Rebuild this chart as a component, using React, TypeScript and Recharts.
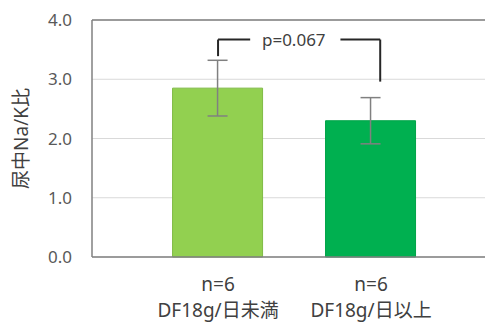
import React from "react";
import {
  BarChart,
  Bar,
  Cell,
  XAxis,
  YAxis,
  CartesianGrid,
  ErrorBar,
  ReferenceLine,
  ReferenceDot,
} from "recharts";

// values
const groups = [1, 2];
const nLabels = ["n=6", "n=6"];
const groupLabels = ["DF18g/日未満", "DF18g/日以上"];
const means = [2.85, 2.3];
const errors = [0.47, 0.39];
const barColors = ["#92D050", "#00B050"];
const barBorders = ["#7FBA45", "#00A448"];
const yTicks = [0, 1, 2, 3, 4];

// significance bracket (data units)
const bracketY = 3.67;
const bracketLeftX = 1;
const bracketLeftBottom = 3.39;
const bracketRightX = 2.06;
const bracketRightBottom = 2.96;
const gapStart = 1.21;
const gapEnd = 1.8;
const pLabelX = 1.495;
const pText = "p=0.067";

const FONT = "'Noto Sans', 'Noto Sans CJK JP', sans-serif";
const AXIS_COLOR = "#808080";
const BRACKET_COLOR = "#262626";

const data = groups.map((g, i) => ({
  x: g,
  mean: means[i],
  err: errors[i],
}));

function GroupTick({ x, y, payload }: any) {
  const i = groups.indexOf(payload.value);
  if (i < 0) return null;
  return (
    <g>
      <text x={x} y={y + 26} textAnchor="middle" fontSize={19} fill="#404040" fontFamily={FONT}>
        {nLabels[i]}
      </text>
      <text x={x} y={y + 52} textAnchor="middle" fontSize={19} fill="#404040" fontFamily={FONT}>
        {groupLabels[i]}
      </text>
    </g>
  );
}

export default function App() {
  return (
    <div style={{ position: "absolute", left: 0, top: 0, background: "#fff" }}>
      <BarChart
        width={485}
        height={322}
        data={data}
        margin={{ top: 20, right: 0, bottom: 0, left: 0 }}
      >
        <CartesianGrid vertical={false} stroke="#D9D9D9" strokeWidth={1} />
        <XAxis
          dataKey="x"
          type="number"
          domain={[0.176, 2.745]}
          ticks={groups}
          allowDataOverflow
          height={65}
          axisLine={{ stroke: AXIS_COLOR, strokeWidth: 1.5 }}
          tickLine={false}
          tick={<GroupTick />}
          interval={0}
        />
        <YAxis
          domain={[0, 4]}
          ticks={yTicks}
          width={92}
          axisLine={{ stroke: AXIS_COLOR, strokeWidth: 1.5 }}
          tickLine={false}
          tickMargin={14}
          tickFormatter={(v: number) => v.toFixed(1)}
          tick={{ fontSize: 17, fill: "#595959", fontFamily: FONT }}
          label={({ viewBox }: any) => (
            <text
              x={21}
              y={viewBox.y + viewBox.height / 2}
              transform={`rotate(-90, 21, ${viewBox.y + viewBox.height / 2})`}
              textAnchor="middle"
              dominantBaseline="central"
              fontSize={19}
              fill="#404040"
              fontFamily={FONT}
            >
              尿中Na/K比
            </text>
          )}
        />
        <ReferenceLine y={4} stroke={AXIS_COLOR} strokeWidth={1.5} />
        <Bar dataKey="mean" barSize={90} isAnimationActive={false}>
          {data.map((d, i) => (
            <Cell key={i} fill={barColors[i]} stroke={barBorders[i]} strokeWidth={1} />
          ))}
          <ErrorBar
            dataKey="err"
            direction="y"
            width={10}
            stroke="#808080"
            strokeWidth={1.5}
            isAnimationActive={false}
          />
        </Bar>
        {/* bracket */}
        <ReferenceLine
          segment={[
            { x: bracketLeftX, y: bracketLeftBottom },
            { x: bracketLeftX, y: bracketY },
          ]}
          stroke={BRACKET_COLOR}
          strokeWidth={2}
        />
        <ReferenceLine
          segment={[
            { x: bracketLeftX, y: bracketY },
            { x: gapStart, y: bracketY },
          ]}
          stroke={BRACKET_COLOR}
          strokeWidth={2}
        />
        <ReferenceLine
          segment={[
            { x: gapEnd, y: bracketY },
            { x: bracketRightX, y: bracketY },
          ]}
          stroke={BRACKET_COLOR}
          strokeWidth={2}
        />
        <ReferenceLine
          segment={[
            { x: bracketRightX, y: bracketY },
            { x: bracketRightX, y: bracketRightBottom },
          ]}
          stroke={BRACKET_COLOR}
          strokeWidth={2}
        />
        <ReferenceDot
          x={pLabelX}
          y={bracketY}
          r={0}
          fill="none"
          stroke="none"
          label={({ viewBox }: any) => (
            <text
              x={viewBox.x + (viewBox.width || 0) / 2}
              y={viewBox.y + (viewBox.height || 0) / 2}
              textAnchor="middle"
              dominantBaseline="central"
              fontSize={17}
              fill="#404040"
              fontFamily={FONT}
            >
              {pText}
            </text>
          )}
        />
      </BarChart>
    </div>
  );
}
